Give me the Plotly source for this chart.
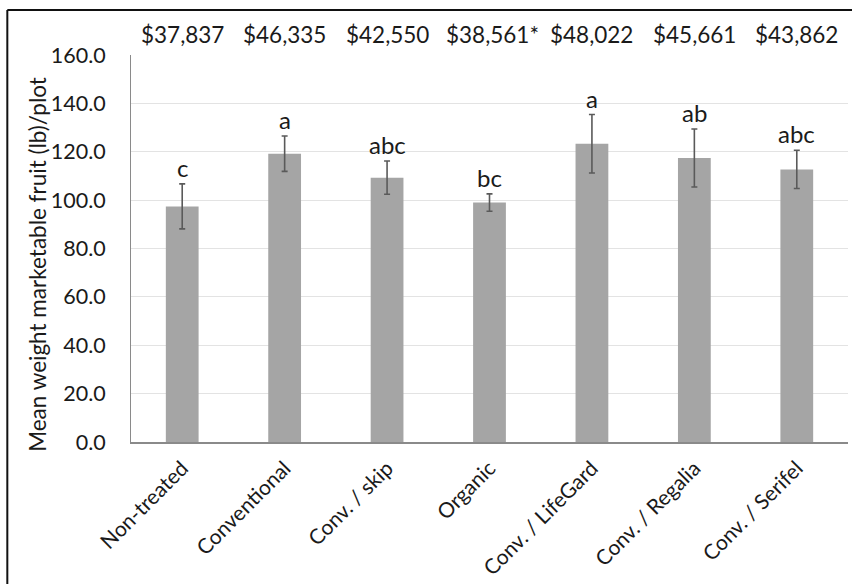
import plotly.graph_objects as go

categories = ["Non-treated", "Conventional", "Conv. / skip", "Organic",
              "Conv. / LifeGard", "Conv. / Regalia", "Conv. / Serifel"]
means = [97.4, 119.2, 109.3, 99.0, 123.3, 117.4, 112.7]
errors = [9.3, 7.3, 6.9, 3.6, 12.1, 12.0, 7.9]
letters = ["c", "a", "abc", "bc", "a", "ab", "abc"]
revenues = ["$37,837", "$46,335", "$42,550", "$38,561*", "$48,022", "$45,661", "$43,862"]
y_ticks = [0, 20, 40, 60, 80, 100, 120, 140, 160]
y_title = "Mean weight marketable fruit (lb)/plot"

FONT = "Lato"
TXT = "#1a1a1a"

fig = go.Figure()
fig.add_trace(go.Bar(
    x=categories, y=means,
    marker=dict(color="#a5a5a5", line=dict(width=0)),
    error_y=dict(type="data", array=errors, visible=True,
                 color="#5a5a5a", thickness=1.6, width=3),
    width=0.32,
))

for c, m, e, l in zip(categories, means, errors, letters):
    fig.add_annotation(x=c, y=m + e, text=l, showarrow=False,
                       yanchor="bottom", yshift=0,
                       font=dict(family=FONT, size=24, color=TXT))

for c, r in zip(categories, revenues):
    fig.add_annotation(x=c, y=1, yref="paper", text=r, showarrow=False,
                       yanchor="bottom", yshift=5, xshift=3 if r.endswith("*") else 0,
                       font=dict(family=FONT, size=22.5, color=TXT))

# y-axis title placed as in the original
fig.add_annotation(x=-0.1296, y=0.458, xref="paper", yref="paper",
                   text=y_title, textangle=-90, showarrow=False,
                   xanchor="center", yanchor="middle",
                   font=dict(family=FONT, size=22.5, color=TXT))

# frame (top and left edges of the original bordered figure)
fig.add_shape(type="line", xref="paper", yref="paper",
              x0=-0.1725, x1=1.01, y0=1.1164, y1=1.1164,
              line=dict(color="#111111", width=2))
fig.add_shape(type="line", xref="paper", yref="paper",
              x0=-0.1725, x1=-0.1725, y0=-0.4, y1=1.1164,
              line=dict(color="#111111", width=2))

fig.update_layout(
    width=852, height=584,
    margin=dict(l=131, r=4, t=55, b=142, pad=0, autoexpand=False),
    paper_bgcolor="white", plot_bgcolor="white",
    showlegend=False,
    font=dict(family=FONT, color=TXT),
    bargap=0.68,
)
fig.update_xaxes(
    tickangle=-45, tickfont=dict(family=FONT, size=21, color=TXT),
    showline=True, linecolor="#8a8a8a", linewidth=1.5,
    ticks="", showgrid=False, ticklabelstandoff=4, automargin=False,
)
fig.update_yaxes(
    range=[0, 160], tickvals=y_ticks, tickformat=".1f",
    tickfont=dict(family=FONT, size=21.5, color=TXT),
    showgrid=True, gridcolor="#e3e3e3", gridwidth=1,
    showline=True, linecolor="#8a8a8a", linewidth=1,
    zeroline=False, ticks="", ticklabelstandoff=20, automargin=False,
)

fig.write_html("out.html")
